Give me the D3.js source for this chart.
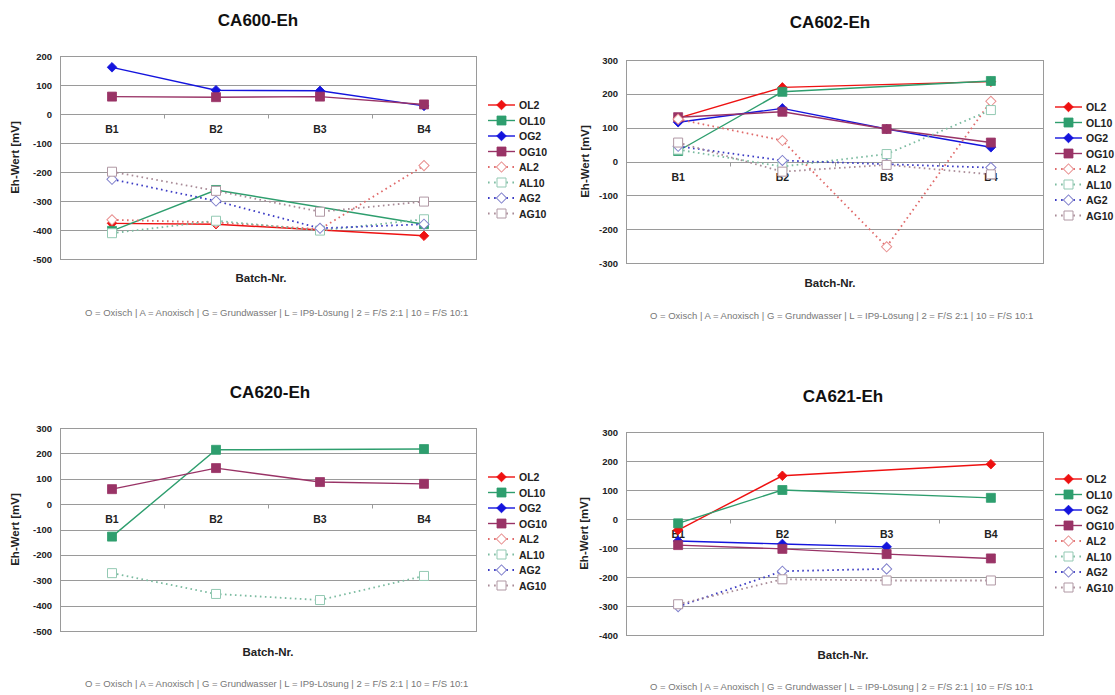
<!DOCTYPE html>
<html>
<head>
<meta charset="utf-8">
<script src="https://cdn.jsdelivr.net/npm/d3@7"></script>
<style>
body { margin: 0; background: #fff; }
text { font-family: Arial, "Liberation Sans", sans-serif; }
</style>
</head>
<body>
<div id="chart"></div>
<script>
var width = 1115;
var height = 695;

// data
var batches = ["B1", "B2", "B3", "B4"];
var seriesNames = ["OL2", "OL10", "OG2", "OG10", "AL2", "AL10", "AG2", "AG10"];

// rows follow seriesNames, null = no measurement
var ca600 = [
    [-377, -380, null, -420],
    [-403, -262, null, -380],
    [161, 82, 80, 28],
    [60, 58, 60, 33],
    [-365, -374, -397, -178],
    [-411, -368, -402, -363],
    [-225, -300, -394, -380],
    [-199, -265, -337, -302]
];
var ca602 = [
    [128, 219, null, 236],
    [31, 206, null, 238],
    [116, 157, 96, 42],
    [131, 147, 96, 56],
    [125, 62, -252, 178],
    [35, -15, 22, 152],
    [45, 3, -8, -18],
    [56, -30, -10, -38]
];
var ca620 = [
    [null, null, null, null],
    [-128, 214, null, 217],
    [null, null, null, null],
    [59, 142, 87, 80],
    [null, null, null, null],
    [-272, -354, -378, -283],
    [null, null, null, null],
    [null, null, null, null]
];
var ca621 = [
    [-38, 149, null, 189],
    [-15, 100, null, 73],
    [-76, -86, -96, null],
    [-90, -103, -121, -136],
    [null, null, null, null],
    [null, null, null, null],
    [-302, -180, -172, null],
    [-294, -208, -212, -212]
];

var ticks600 = [200, 100, 0, -100, -200, -300, -400, -500];
var ticks602 = [300, 200, 100, 0, -100, -200, -300];
var ticks620 = [300, 200, 100, 0, -100, -200, -300, -400, -500];
var ticks621 = [300, 200, 100, 0, -100, -200, -300, -400];

var note = "O = Oxisch | A = Anoxisch | G = Grundwasser | L = IP9-Lösung | 2 = F/S 2:1 | 10 = F/S 10:1";

// style per series
var styles = [
    {line: "#ee1111", fill: "#ee1111", stroke: "#ee1111", shape: "diamond", dash: null},
    {line: "#2e9e6e", fill: "#2e9e6e", stroke: "#2e9e6e", shape: "square", dash: null},
    {line: "#1414dd", fill: "#1414dd", stroke: "#1414dd", shape: "diamond", dash: null},
    {line: "#993366", fill: "#993366", stroke: "#993366", shape: "square", dash: null},
    {line: "#e06a6a", fill: "#fff", stroke: "#e89090", shape: "diamond", dash: "1.6,3.4"},
    {line: "#7bbba0", fill: "#fff", stroke: "#93c9b3", shape: "square", dash: "1.6,3.4"},
    {line: "#3a3ac4", fill: "#fff", stroke: "#8080cc", shape: "diamond", dash: "1.6,3.4"},
    {line: "#a88a96", fill: "#fff", stroke: "#b098a4", shape: "square", dash: "1.6,3.4"}
];

var panels = [
    {title: "CA600-Eh", data: ca600, ticks: ticks600, x0: 60, x1: 476, y0: 56, y1: 259,
        tx: 258, ty: 26, lx: 488, ly: 105, bx: 261, by: 282, ax: 18, nx: 85, ny: 316},
    {title: "CA602-Eh", data: ca602, ticks: ticks602, x0: 626, x1: 1043, y0: 60, y1: 263,
        tx: 830, ty: 28, lx: 1055, ly: 107, bx: 830, by: 287, ax: 588, nx: 650, ny: 319},
    {title: "CA620-Eh", data: ca620, ticks: ticks620, x0: 60, x1: 476, y0: 428, y1: 631,
        tx: 270, ty: 398, lx: 488, ly: 477, bx: 268, by: 656, ax: 18, nx: 85, ny: 687},
    {title: "CA621-Eh", data: ca621, ticks: ticks621, x0: 626, x1: 1043, y0: 432, y1: 635,
        tx: 843, ty: 402, lx: 1055, ly: 479, bx: 843, by: 659, ax: 587, nx: 650, ny: 690}
];

var svg = d3.select("#chart").append("svg")
    .attr("width", width)
    .attr("height", height);

svg.append("rect")
    .attr("width", width)
    .attr("height", height)
    .attr("fill", "#fff");

function drawMarker(g, x, y, st) {
    var solid = st.dash === null;
    var size = solid ? (st.shape === "square" ? 9 : 6.8) : (st.shape === "square" ? 9 : 7.2);
    var p = g.append("path")
        .attr("d", d3.symbol().type(d3.symbolSquare).size(size * size))
        .attr("fill", st.fill)
        .attr("stroke", st.stroke)
        .attr("stroke-width", solid ? 0.8 : 1);
    var t = "translate(" + x + "," + y + ")";
    if (st.shape === "diamond") t += " rotate(45)";
    p.attr("transform", t);
}

panels.forEach(function (p) {
    var g = svg.append("g");

    var x = d3.scaleBand()
        .domain(batches)
        .range([p.x0, p.x1]);

    var y = d3.scaleLinear()
        .domain([d3.min(p.ticks), d3.max(p.ticks)])
        .range([p.y1, p.y0]);

    // gridlines
    g.selectAll(".grid")
        .data(p.ticks)
        .enter().append("line")
        .attr("x1", p.x0)
        .attr("x2", p.x1)
        .attr("y1", function (d) { return Math.round(y(d)) + 0.5; })
        .attr("y2", function (d) { return Math.round(y(d)) + 0.5; })
        .attr("stroke", "#9a9a9a")
        .attr("stroke-width", 1);

    // frame
    g.append("rect")
        .attr("x", p.x0 + 0.5)
        .attr("y", Math.round(p.y0) + 0.5)
        .attr("width", p.x1 - p.x0)
        .attr("height", Math.round(p.y1) - Math.round(p.y0))
        .attr("fill", "none")
        .attr("stroke", "#9a9a9a");

    // y axis
    var yAxis = d3.axisLeft(y)
        .tickValues(p.ticks)
        .tickFormat(function (d) { return String(d); })
        .tickSize(0)
        .tickPadding(8);
    var ya = g.append("g")
        .attr("transform", "translate(" + p.x0 + ",0)")
        .call(yAxis);
    ya.select(".domain").attr("stroke", "#9a9a9a");
    ya.selectAll("text")
        .attr("font-family", "Arial, 'Liberation Sans', sans-serif")
        .attr("font-size", 9.5)
        .attr("font-weight", "bold")
        .attr("fill", "#222");

    // category axis on the zero line
    var y0 = Math.round(y(0)) + 0.5;
    g.selectAll(".ctick")
        .data(batches.slice(1))
        .enter().append("line")
        .attr("x1", function (d) { return Math.round(x(d)) + 0.5; })
        .attr("x2", function (d) { return Math.round(x(d)) + 0.5; })
        .attr("y1", y0)
        .attr("y2", y0 + 4)
        .attr("stroke", "#9a9a9a");

    g.selectAll(".clabel")
        .data(batches)
        .enter().append("text")
        .attr("x", function (d) { return x(d) + x.bandwidth() / 2; })
        .attr("y", y(0) + 19)
        .attr("text-anchor", "middle")
        .attr("font-size", 10.5)
        .attr("font-weight", "bold")
        .attr("fill", "#222")
        .text(function (d) { return d; });

    // series
    var line = d3.line()
        .x(function (d) { return x(d.b) + x.bandwidth() / 2; })
        .y(function (d) { return y(d.v); });

    p.data.forEach(function (vals, i) {
        var st = styles[i];
        var pts = vals.map(function (v, j) { return {b: batches[j], v: v}; })
            .filter(function (d) { return d.v !== null; });
        if (pts.length === 0) return;
        var path = g.append("path")
            .datum(pts)
            .attr("d", line)
            .attr("fill", "none")
            .attr("stroke", st.line)
            .attr("stroke-width", st.dash ? 1.8 : 1.4);
        if (st.dash) path.attr("stroke-dasharray", st.dash);
        pts.forEach(function (d) {
            drawMarker(g, x(d.b) + x.bandwidth() / 2, y(d.v), st);
        });
    });

    // titles
    svg.append("text")
        .attr("x", p.tx)
        .attr("y", p.ty)
        .attr("text-anchor", "middle")
        .attr("font-size", 17)
        .attr("font-weight", "bold")
        .attr("fill", "#111")
        .text(p.title);

    svg.append("text")
        .attr("x", p.bx)
        .attr("y", p.by)
        .attr("text-anchor", "middle")
        .attr("font-size", 11.5)
        .attr("font-weight", "bold")
        .attr("fill", "#222")
        .text("Batch-Nr.");

    svg.append("text")
        .attr("transform", "translate(" + (p.ax + 1) + "," + ((p.y0 + p.y1) / 2) + ") rotate(-90)")
        .attr("text-anchor", "middle")
        .attr("font-size", 11.5)
        .attr("font-weight", "bold")
        .attr("fill", "#222")
        .text("Eh-Wert [mV]");

    svg.append("text")
        .attr("x", p.nx)
        .attr("y", p.ny)
        .attr("font-size", 9.5)
        .attr("fill", "#777")
        .text(note);

    // legend
    var lg = svg.append("g")
        .attr("transform", "translate(" + p.lx + "," + p.ly + ")");
    seriesNames.forEach(function (name, i) {
        var st = styles[i];
        var row = lg.append("g").attr("transform", "translate(0," + (i * 15.5) + ")");
        var l = row.append("line")
            .attr("x1", 0)
            .attr("x2", 27)
            .attr("stroke", st.line)
            .attr("stroke-width", st.dash ? 1.8 : 1.4);
        if (st.dash) l.attr("stroke-dasharray", "1.6,4.5");
        drawMarker(row, 13.5, 0, st);
        row.append("text")
            .attr("x", 31)
            .attr("y", 4)
            .attr("font-size", 10.5)
            .attr("font-weight", "bold")
            .attr("fill", "#222")
            .text(name);
    });
});
</script>
</body>
</html>
